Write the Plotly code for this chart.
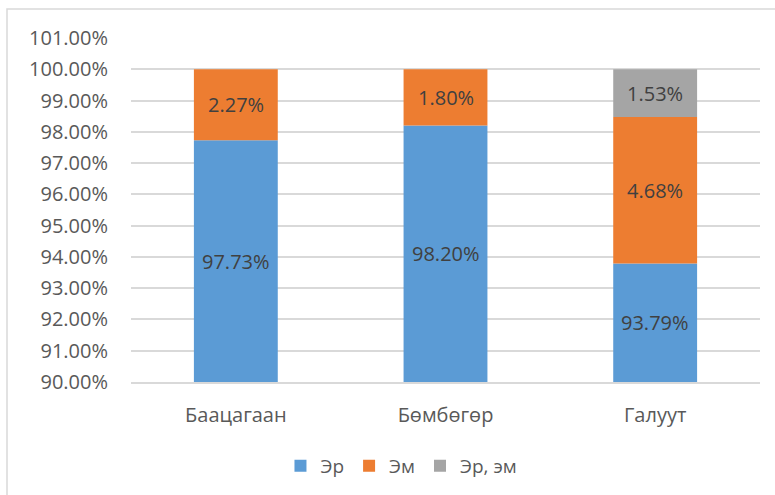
import plotly.graph_objects as go

# Category names and series shares (percent)
categories = ["Баацагаан", "Бөмбөгөр", "Галуут"]
series_names = ["Эр", "Эм", "Эр, эм"]
er_values = [97.73, 98.20, 93.79]
em_values = [2.27, 1.80, 4.68]
er_em_values = [0.0, 0.0, 1.53]
colors = ["#5B9BD5", "#ED7D31", "#A5A5A5"]

y_min, y_max = 90, 101
tick_vals = list(range(90, 102))
tick_text = [f"{v:.2f}%" for v in tick_vals]

FONT = "Open Sans"
series = [er_values, em_values, er_em_values]

fig = go.Figure()
annotations = []
bases = [0.0] * len(categories)
for name, vals, col in zip(series_names, series, colors):
    fig.add_trace(go.Bar(
        x=categories, y=vals, base=bases, name=name,
        marker=dict(color=col, line=dict(width=0)),
        textposition="none",
    ))
    for i, v in enumerate(vals):
        if v <= 0:
            continue
        lo = max(bases[i], y_min)
        hi = bases[i] + v
        annotations.append(dict(
            x=categories[i], y=(lo + hi) / 2, xref="x", yref="y",
            text=f"{v:.2f}%", showarrow=False,
            font=dict(family=FONT, size=20, color="#404040"),
        ))
    bases = [b + v for b, v in zip(bases, vals)]

# Chart frame (left/top edges visible)
L, R, T, B = 131, 15, 38, 112
pw, ph = 775 - L - R, 495 - T - B
shapes = [dict(
    type="rect", xref="paper", yref="paper",
    x0=(7 - L) / pw, x1=(790 - L) / pw,
    y0=1 - (510 - T) / ph, y1=1 - (9 - T) / ph,
    line=dict(color="#D9D9D9", width=1.5), fillcolor="rgba(0,0,0,0)", layer="below",
)]

fig.update_layout(
    width=775, height=495,
    margin=dict(l=L, r=R, t=T, b=B),
    paper_bgcolor="white", plot_bgcolor="white",
    barmode="overlay", bargap=0.6,
    font=dict(family=FONT, color="#595959", size=19),
    showlegend=True,
    legend=dict(
        orientation="h", x=0.43, xanchor="center", y=-0.24, yanchor="middle",
        font=dict(family=FONT, size=19, color="#595959"),
        itemwidth=30, traceorder="normal",
    ),
    xaxis=dict(
        showgrid=False, showline=True, linecolor="#D9D9D9", linewidth=1.5,
        ticks="", tickfont=dict(size=20, color="#595959"), ticklabelstandoff=14,
    ),
    yaxis=dict(
        range=[y_min, y_max], tickvals=tick_vals, ticktext=tick_text,
        showgrid=True, gridcolor="#D9D9D9", gridwidth=1.5,
        zeroline=False, showline=False, ticks="",
        tickfont=dict(size=20, color="#595959"), ticklabelstandoff=22,
    ),
    annotations=annotations,
    shapes=shapes,
)

fig.write_html("out.html")
